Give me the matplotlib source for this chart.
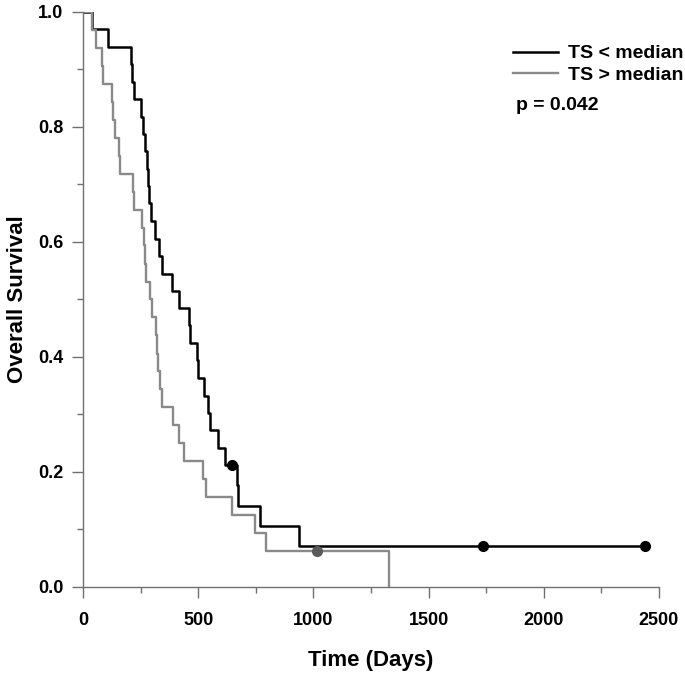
import numpy as np
import matplotlib
matplotlib.use("Agg")
import matplotlib.pyplot as plt
from matplotlib.ticker import MultipleLocator, FormatStrFormatter

plt.rcParams['font.family'] = ['Liberation Sans', 'DejaVu Sans']
plt.rcParams['font.weight'] = 'bold'

# -----------------------------
# data
# -----------------------------
# TS < median (black): step times (days) and survival after each step
low_times = [0, 39, 108, 208, 213, 221, 252, 260, 269, 276, 282, 287, 295, 311,
             329, 343, 386, 417, 460, 464, 495, 499, 525, 543, 551, 586, 616,
             668, 673, 768, 937, 2438]
low_surv = [1.0, 0.970, 0.939, 0.909, 0.879, 0.848, 0.818, 0.788, 0.758, 0.727,
            0.697, 0.667, 0.636, 0.606, 0.576, 0.545, 0.515, 0.485, 0.455, 0.424,
            0.394, 0.364, 0.333, 0.303, 0.273, 0.242, 0.212, 0.177, 0.141, 0.106,
            0.071, 0.071]
low_cens_t = [646, 1737, 2438]
low_cens_s = [0.212, 0.071, 0.071]

# TS > median (grey)
high_times = [0, 39, 56, 82, 87, 126, 132, 137, 156, 161, 217, 223, 258, 265, 269,
              273, 291, 299, 317, 321, 325, 334, 343, 390, 416, 438, 521, 534,
              646, 746, 794, 1328]
high_surv = [1.0, 0.969, 0.9375, 0.906, 0.875, 0.844, 0.8125, 0.781, 0.75, 0.719,
             0.6875, 0.656, 0.625, 0.594, 0.5625, 0.531, 0.5, 0.469, 0.4375, 0.406,
             0.375, 0.344, 0.3125, 0.281, 0.25, 0.219, 0.1875, 0.156, 0.125, 0.094,
             0.0625, 0.0]
high_cens_t = [1015]
high_cens_s = [0.0625]

labels = ['TS < median', 'TS > median']
p_text = 'p = 0.042'

# -----------------------------
# figure
# -----------------------------
fig = plt.figure(figsize=(6.85, 6.73), dpi=100)
ax = fig.add_axes([0.1212, 0.1278, 0.8408, 0.8544])

ax.step(low_times, low_surv, where='post', color='black', lw=1.8, label=labels[0])
ax.step(high_times, high_surv, where='post', color='#8a8a8a', lw=1.7, label=labels[1])
ax.plot(low_cens_t, low_cens_s, 'o', color='black', ms=7, clip_on=False)
ax.plot(high_cens_t, high_cens_s, 'o', color='#5a5a5a', ms=7, clip_on=False)

ax.set_xlim(0, 2500)
ax.set_ylim(0, 1.0)
ax.xaxis.set_major_locator(MultipleLocator(500))
ax.xaxis.set_minor_locator(MultipleLocator(250))
ax.yaxis.set_major_locator(MultipleLocator(0.2))
ax.yaxis.set_minor_locator(MultipleLocator(0.1))
ax.yaxis.set_major_formatter(FormatStrFormatter('%.1f'))

for s in ['top', 'right']:
    ax.spines[s].set_visible(False)
for s in ['left', 'bottom']:
    ax.spines[s].set_color('#707070')
    ax.spines[s].set_linewidth(1.0)

ax.tick_params(which='major', direction='out', length=8, width=1.0, color='#707070',
               labelsize=13)
ax.tick_params(which='minor', direction='out', length=4.5, width=1.0, color='#707070')
ax.tick_params(axis='x', which='major', pad=10)
ax.tick_params(axis='y', which='major', pad=6)

ax.set_xlabel('Time (Days)', fontsize=16, fontweight='bold', labelpad=15)
ax.set_ylabel('Overall Survival', fontsize=16, fontweight='bold', labelpad=7)

leg = ax.legend(loc='upper left', bbox_to_anchor=(0.7465, 0.943), frameon=False,
                fontsize=14, handlelength=2.3, handletextpad=0.55,
                labelspacing=0.2, borderaxespad=0, borderpad=0)
ax.text(0.752, 0.837, p_text, transform=ax.transAxes, fontsize=14,
        fontweight='bold', va='center', ha='left')

fig.savefig('out.png', dpi=100)
